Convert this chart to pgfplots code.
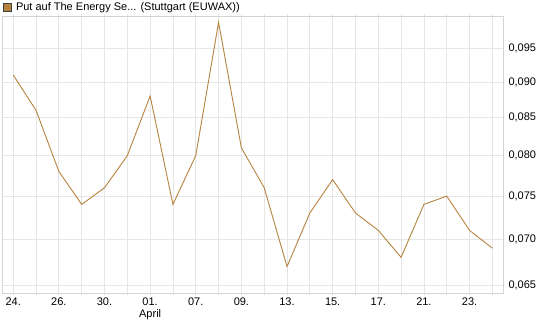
\documentclass[border=0pt]{standalone}
\usepackage{pgfplots}
\pgfplotsset{compat=1.18}
\usepackage{fontspec}
\setmainfont{Liberation Sans}
\definecolor{linec}{RGB}{181,131,62}
\definecolor{gridc}{RGB}{230,230,230}
\definecolor{framec}{RGB}{212,212,212}
\begin{document}
\fontsize{11}{13}\selectfont
\begin{tikzpicture}[x=1pt,y=1pt]
\useasboundingbox (0,0) rectangle (545,327);
\begin{axis}[
  at={(2.3pt,33.7pt)}, anchor=south west,
  scale only axis, width=501pt, height=277.3pt,
  ymode=log, ymin=0.0642, ymax=0.1,
  xmin=-0.48, xmax=21.48,
  axis line style={framec},
  xtick={0,...,21},
  xticklabels={24.,,26.,,30.,,{01.\\April},,07.,,09.,,13.,,15.,,17.,,21.,,23.,},
  xticklabel style={align=center, font=\fontsize{11}{12}\selectfont, inner sep=1pt, yshift=-1.5pt},
  ytick={0.065,0.07,0.075,0.08,0.085,0.09,0.095},
  yticklabels={{0,065},{0,070},{0,075},{0,080},{0,085},{0,090},{0,095}},
  yticklabel pos=right,
  yticklabel style={font=\fontsize{11}{12}\selectfont, inner sep=1pt, xshift=2pt},
  minor ytick={}, 
  log basis y=10,
  xmajorgrids, ymajorgrids,
  major grid style={gridc, line width=0.8pt},
  tick align=outside, major tick length=2pt,
  tick style={gridc, line width=0.8pt},
  ytick style={draw=none},
  /pgf/number format/assume math mode=true,
  legend style={at={(0,1)}, anchor=south west, draw=none, fill=none,
    inner sep=0pt, outer sep=0pt, yshift=2pt, xshift=0.5pt,
    font=\fontsize{11}{12}\selectfont,
    /tikz/every odd column/.append style={column sep=2pt}},
  legend cell align=left,
  legend image code/.code={\draw[fill=linec, draw=black!75, line width=0.6pt] (0pt,-4.3pt) rectangle (8.6pt,4.3pt);},
]
\addplot[linec, line width=0.9pt] coordinates {
(0,0.091) (1,0.086) (2,0.078) (3,0.074) (4,0.076) (5,0.080) (6,0.088) (7,0.074)
(8,0.080) (9,0.099) (10,0.081) (11,0.076) (12,0.067) (13,0.073) (14,0.077) (15,0.073)
(16,0.071) (17,0.068) (18,0.074) (19,0.075) (20,0.071) (21,0.069)
};
\addlegendentry{Put auf The Energy Se... (Stuttgart (EUWAX))}
\end{axis}
\end{tikzpicture}
\end{document}
